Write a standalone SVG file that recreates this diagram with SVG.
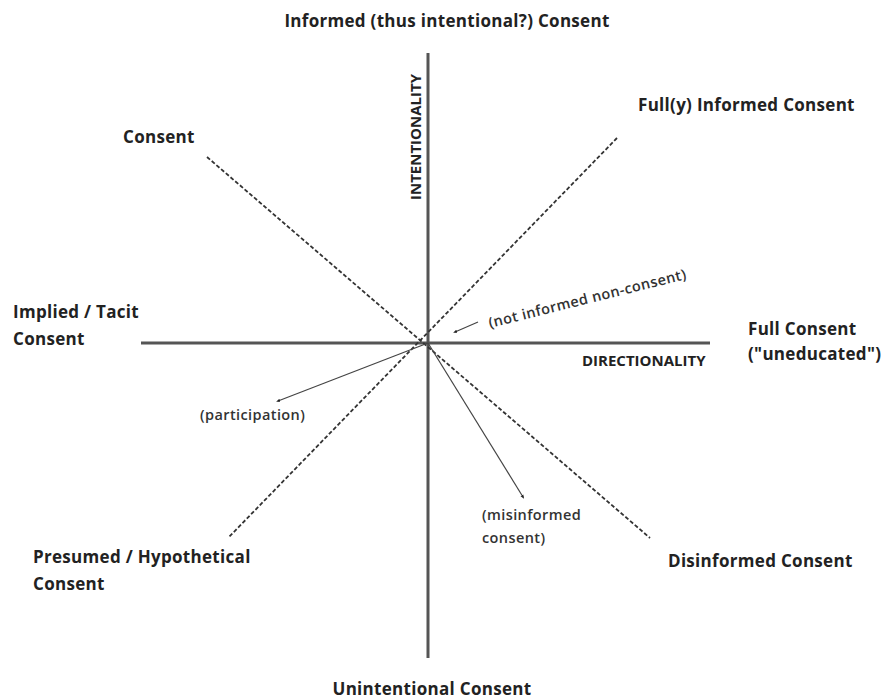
<svg xmlns="http://www.w3.org/2000/svg" width="890" height="700" viewBox="0 0 890 700">
<style>
.lbl{font-family:"Open Sans","Liberation Sans",sans-serif;font-weight:700;font-size:17px;letter-spacing:0.3px;fill:#222}
.sm{font-family:"Open Sans","Liberation Sans",sans-serif;font-weight:600;font-size:14.5px;letter-spacing:0.4px;fill:#333}
.ax{font-family:"Open Sans","Liberation Sans",sans-serif;font-weight:700;font-size:15px;fill:#222}
.axis{stroke:#555;stroke-width:3;fill:none}
.dash{stroke:#333;stroke-width:1.8;stroke-dasharray:4 2.2;fill:none}
.arr{stroke:#444;stroke-width:1.2;fill:none;marker-end:url(#dot)}
</style>
<defs>
<marker id="dot" viewBox="0 0 10 10" refX="5" refY="5" markerWidth="4" markerHeight="4" orient="auto" markerUnits="userSpaceOnUse">
<path d="M0,1 L10,5 L0,9 Z" fill="#222"/>
</marker>
</defs>
<rect width="890" height="700" fill="#fff"/>
<g id="connectors">
<line class="axis" x1="428" y1="53" x2="428" y2="658"/>
<line class="axis" x1="141" y1="343" x2="710" y2="343"/>
<line class="dash" x1="207" y1="157" x2="650" y2="538"/>
<line class="dash" x1="617" y1="138" x2="228" y2="538"/>
<line class="arr" x1="428" y1="343" x2="278" y2="401"/>
<line class="arr" x1="428" y1="343" x2="523" y2="497"/>
<line class="arr" x1="478" y1="322" x2="455" y2="332"/>
</g>
<g id="top"><text class="lbl" x="447" y="27" text-anchor="middle">Informed (thus intentional?) Consent</text></g>
<g id="fully"><text class="lbl" x="638" y="111">Full(y) Informed Consent</text></g>
<g id="consent"><text class="lbl" x="123" y="143">Consent</text></g>
<g id="implied"><text class="lbl" x="13" y="318">Implied / Tacit</text><text class="lbl" x="13" y="345">Consent</text></g>
<g id="full"><text class="lbl" x="748" y="335">Full Consent</text><text class="lbl" x="748" y="360">("uneducated")</text></g>
<g id="presumed"><text class="lbl" x="33" y="563">Presumed / Hypothetical</text><text class="lbl" x="33" y="590">Consent</text></g>
<g id="disinformed"><text class="lbl" x="668" y="567">Disinformed Consent</text></g>
<g id="unintentional"><text class="lbl" x="432" y="695" text-anchor="middle">Unintentional Consent</text></g>
<g id="intentionality"><text class="ax" transform="translate(421,137) rotate(-90)" text-anchor="middle">INTENTIONALITY</text></g>
<g id="directionality"><text class="ax" x="582" y="366">DIRECTIONALITY</text></g>
<g id="notinformed"><text class="sm" transform="translate(490,328) rotate(-14)">(not informed non-consent)</text></g>
<g id="participation"><text class="sm" x="200" y="420">(participation)</text></g>
<g id="misinformed"><text class="sm" x="482" y="520">(misinformed</text><text class="sm" x="482" y="543">consent)</text></g>
</svg>
